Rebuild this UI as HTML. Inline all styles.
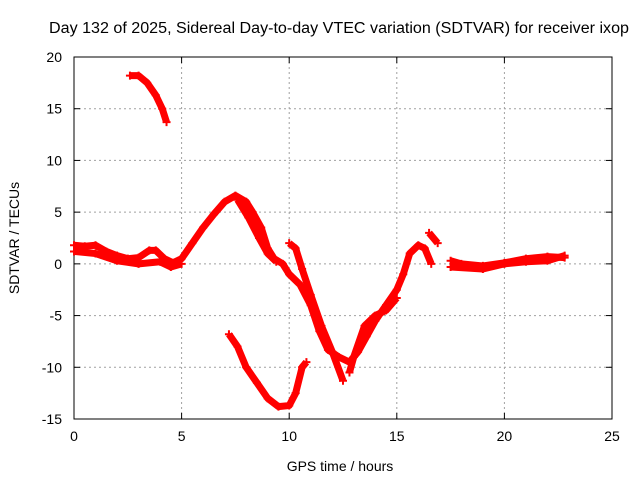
<!DOCTYPE html>
<html><head><meta charset="utf-8"><style>
body{margin:0;background:#fff}
svg{display:block;font-family:"Liberation Sans",sans-serif}
</style></head><body>
<svg id="chart" width="640" height="480" xmlns="http://www.w3.org/2000/svg">
<rect width="640" height="480" fill="#fff"/>
<text x="339" y="33" font-size="15.5" text-anchor="middle" textLength="580" lengthAdjust="spacingAndGlyphs">Day 132 of 2025, Sidereal Day-to-day VTEC variation (SDTVAR) for receiver ixop</text>
<g id="grid"></g>
<g id="axes"></g>
<g id="series"></g>
<text x="340" y="471" font-size="14" text-anchor="middle">GPS time / hours</text>
<text transform="translate(19,238) rotate(-90)" font-size="14" text-anchor="middle">SDTVAR / TECUs</text>
</svg>
<script>
const xTicks=[0,5,10,15,20,25];
const yTicks=[20,15,10,5,0,-5,-10,-15];
const trackTopT=[2.6,3.0,3.4,3.8,4.1,4.3];
const trackTopV=[18.2,18.2,17.5,16.3,15,13.7];
const trackMainT=[0,0.5,1,1.5,2,2.5,3,3.5,3.8,4.2,4.6,5,5.5,6,6.5,7,7.5,8,8.3,8.7,9,9.3,9.7,10,10.5,11,11.4,11.8,12.3,12.8,13.2,13.6,14,14.5,15,15.3,15.6,16,16.3,16.6];
const trackMainV=[1.8,1.7,1.8,1.2,0.8,0.5,0.6,1.3,1.3,0.5,0.1,0.5,2,3.5,4.8,6,6.6,6,5,3.5,1.5,0.5,0,-1,-2,-4,-6.5,-8.3,-9,-9.5,-8.5,-7,-5.5,-4,-2.5,-1,1,1.8,1.5,0];
const trackLowBandT=[0,1,2,3,4,4.5,5];
const trackLowBandV=[1.2,1,0.3,0,0.2,-0.3,0];
const trackArcT=[7.2,7.6,8,8.5,9,9.5,10,10.3,10.6,10.8];
const trackArcV=[-6.8,-8,-10,-11.5,-13,-13.8,-13.7,-12.5,-10,-9.5];
const trackSpikeT=[10,10.3,10.6,11,11.5,12,12.5];
const trackSpikeV=[2,1.5,-0.5,-3,-6,-8.5,-11.3];
const trackRiseT=[12.8,13,13.5,14,14.5,15];
const trackRiseV=[-10.5,-9,-6,-5,-4.5,-3.3];
const trackShortT=[16.5,16.9];
const trackShortV=[3,2];
const trackLateAT=[17.5,18,19,20,21,22,22.8];
const trackLateAV=[0.3,0,-0.2,0.1,0.5,0.7,0.6];
const trackLateBT=[17.5,19,20,21,22,22.8];
const trackLateBV=[-0.3,-0.5,0,0.2,0.3,0.8];
const trackWideT=[7.6,8.1,8.6,9.0,9.4];
const trackWideV=[6.2,4.5,2.5,1.0,0.2];

const X0=74,X1=612,Y0=419,Y1=57;
const sx=t=>X0+(t/25)*(X1-X0);
const sy=v=>Y0-((v+15)/35)*(Y0-Y1);
const NS="http://www.w3.org/2000/svg";
function mk(tag,parent,attrs){const e=document.createElementNS(NS,tag);for(const k in attrs)e.setAttribute(k,attrs[k]);parent.appendChild(e);return e;}
const grid=document.getElementById('grid'),axes=document.getElementById('axes'),ser=document.getElementById('series');
xTicks.forEach(t=>{
  if(t>0&&t<25){const l=mk('line',grid,{x1:sx(t),x2:sx(t),y1:Y1,y2:Y0,stroke:'#a0a0a0','stroke-dasharray':'2,3'});
  
  }
  mk('line',axes,{x1:sx(t),x2:sx(t),y1:Y0,y2:Y0-6,stroke:'#000'});
  mk('line',axes,{x1:sx(t),x2:sx(t),y1:Y1,y2:Y1+6,stroke:'#000'});
  const tx=mk('text',axes,{x:sx(t),y:Y0+22,'font-size':14,'text-anchor':'middle'});tx.textContent=t;
  
  
});
yTicks.forEach(v=>{
  if(v>-15&&v<20){const l=mk('line',grid,{x1:X0,x2:X1,y1:sy(v),y2:sy(v),stroke:'#a0a0a0','stroke-dasharray':'2,3'});
  
  }
  mk('line',axes,{x1:X0,x2:X0+6,y1:sy(v),y2:sy(v),stroke:'#000'});
  mk('line',axes,{x1:X1,x2:X1-6,y1:sy(v),y2:sy(v),stroke:'#000'});
  const tx=mk('text',axes,{x:X0-12,y:sy(v)+5,'font-size':14,'text-anchor':'end'});tx.textContent=v;
  
  
});
const frame=mk('rect',axes,{x:X0,y:Y1,width:X1-X0,height:Y0-Y1,fill:'none',stroke:'#000'});


const tracks=[[trackTopT,trackTopV],[trackMainT,trackMainV],[trackLowBandT,trackLowBandV],[trackArcT,trackArcV],[trackSpikeT,trackSpikeV],[trackRiseT,trackRiseV],[trackShortT,trackShortV],[trackLateAT,trackLateAV],[trackLateBT,trackLateBV],[trackWideT,trackWideV]];
tracks.forEach(([T,V])=>{
  const pts=T.map((t,i)=>sx(t)+','+sy(V[i])).join(' ');
  const pl=mk('polyline',ser,{points:pts,fill:'none',stroke:'#ff0000','stroke-width':7,'stroke-linejoin':'round'});
  
  
  T.forEach((t,i)=>{
    const x=sx(t),y=sy(V[i]);
    const p=mk('path',ser,{d:`M${x-4},${y}H${x+4}M${x},${y-4}V${y+4}`,stroke:'#ff0000','stroke-width':2});
    
    
  });
});
</script>
</body></html>
